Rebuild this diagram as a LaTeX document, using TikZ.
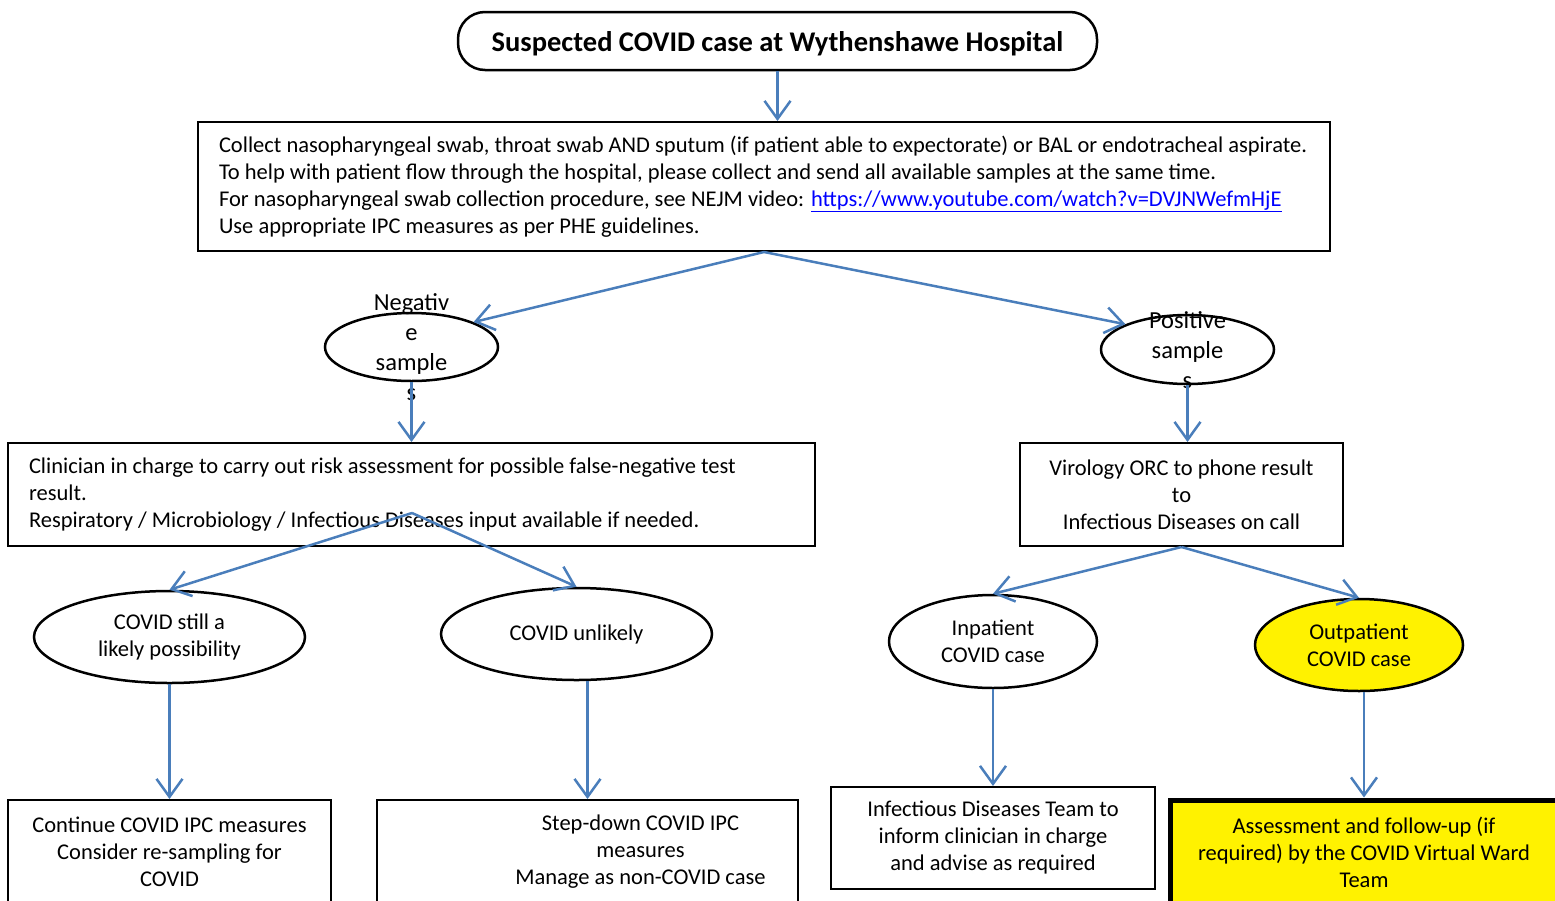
\documentclass[tikz,border=0pt]{standalone}
\usepackage{fontspec}
\setmainfont{Carlito}
\usetikzlibrary{arrows.meta,shapes.geometric}
\definecolor{flowblue}{RGB}{74,126,187}
\definecolor{linkblue}{RGB}{0,0,255}
\tikzstyle{titlebox}=[draw,rounded corners=27pt,line width=2.5pt,minimum width=639pt,minimum height=58pt,text height=20pt,text depth=0pt,font=\fontsize{28.5}{32}\selectfont\bfseries]
\tikzstyle{rectbox}=[draw,line width=2pt,inner ysep=0pt,inner xsep=21pt,font=\fontsize{22.5}{27}\selectfont]
\tikzstyle{leftbox}=[rectbox,align=flush left]
\tikzstyle{oval}=[ellipse,draw,line width=2.5pt,inner sep=0pt,align=center,font=\fontsize{22.5}{27}\selectfont]
\tikzstyle{flow}=[draw,line width=2.5pt,flowblue,-{Straight Barb[length=18pt,width=26pt]}]

\begin{document}
\begin{tikzpicture}[x=1pt,y=-1pt]

    \useasboundingbox (0,0) rectangle (1555,900);

    \node[titlebox] (title) at (777.5,41) {Suspected COVID case at Wythenshawe Hospital};

    \node[leftbox, minimum width=1132pt, minimum height=129pt, text width=1090pt] (collect) at (764,186.5)
        {Collect nasopharyngeal swab, throat swab AND sputum (if patient able to expectorate) or BAL or endotracheal aspirate.\\
         To help with patient flow through the hospital, please collect and send all available samples at the same time.\\
         For nasopharyngeal swab collection procedure, see NEJM video: \textcolor{linkblue}{\underline{https://www.youtube.com/watch?v=DVJNWefmHjE}}\\
         Use appropriate IPC measures as per PHE guidelines.};

    % sample ovals, the text spills over the border
    \node[oval, minimum width=173pt, minimum height=68pt, font=\fontsize{24.5}{30}\selectfont] (neg) at (411.5,347)
        {\smash{\raisebox{-9pt}{\begin{tabular}{@{}c@{}}Negativ\\e\\sample\\s\end{tabular}}}};
    \node[oval, minimum width=173pt, minimum height=69pt, font=\fontsize{24.5}{30}\selectfont] (pos) at (1187.5,349.5)
        {\smash{\raisebox{-9pt}{\begin{tabular}{@{}c@{}}Positive\\sample\\s\end{tabular}}}};

    \node[leftbox, minimum width=807pt, minimum height=103pt, text width=765pt] (riskbox) at (411.5,494.5)
        {Clinician in charge to carry out risk assessment for possible false-negative test\\
         result.\\
         Respiratory / Microbiology / Infectious Diseases input available if needed.};
    \node[rectbox, minimum width=323pt, minimum height=103pt, align=center] (orcbox) at (1181.5,494.5)
        {Virology ORC to phone result\\to\\Infectious Diseases on call};

    \coordinate (negsplit) at (412,513);

    \foreach \x/\y/\w/\h/\name/\txt in {169.5/637/271/92/still/{COVID still a\\likely possibility},
                                       576.5/634/271/92/unlikely/{COVID unlikely},
                                       993/641.5/208/93/inpat/{Inpatient\\COVID case}}
        \node[oval, minimum width=\w pt, minimum height=\h pt] (\name) at (\x,\y) {\txt};
    \node[oval, minimum width=208pt, minimum height=92pt, fill=yellow] (outpat) at (1359,645) {Outpatient\\COVID case};

    \node[rectbox, minimum width=323pt, minimum height=104pt, align=center] (contbox) at (169.5,852)
        {Continue COVID IPC measures\\Consider re-sampling for\\COVID};
    \node[rectbox, minimum width=421pt, minimum height=104pt, inner xsep=0pt] (stepbox) at (587.5,852)
        {\begin{tabular}{@{\hspace{106pt}}c@{}}Step-down COVID IPC\\measures\\Manage as non-COVID case\end{tabular}};
    \node[rectbox, minimum width=324pt, minimum height=102pt, align=center] (idbox) at (993,838)
        {Infectious Diseases Team to\\inform clinician in charge\\and advise as required};
    \node[rectbox, minimum width=388pt, minimum height=104pt, align=center, line width=5pt, fill=yellow] (vwbox) at (1364,852)
        {Assessment and follow-up (if\\required) by the COVID Virtual Ward\\Team};

    \foreach \source/\dest in {collect.south/neg.north east, collect.south/pos.north west, neg.south/riskbox.north,
                               negsplit/still.north, negsplit/unlikely.north, orcbox.south/inpat.north,
                               orcbox.south/outpat.north, still.south/contbox.north, inpat.south/idbox.north}
        \path[flow] (\source) -- (\dest);

    \path[flow] (title.south) -- (title.south |- collect.north);
    \path[flow] (pos.south) -- (pos.south |- orcbox.north);
    \path[flow] (stepbox.north |- unlikely.south) -- (stepbox.north);
    \path[flow] (vwbox.north |- outpat.south) -- (vwbox.north);

\end{tikzpicture}
\end{document}
